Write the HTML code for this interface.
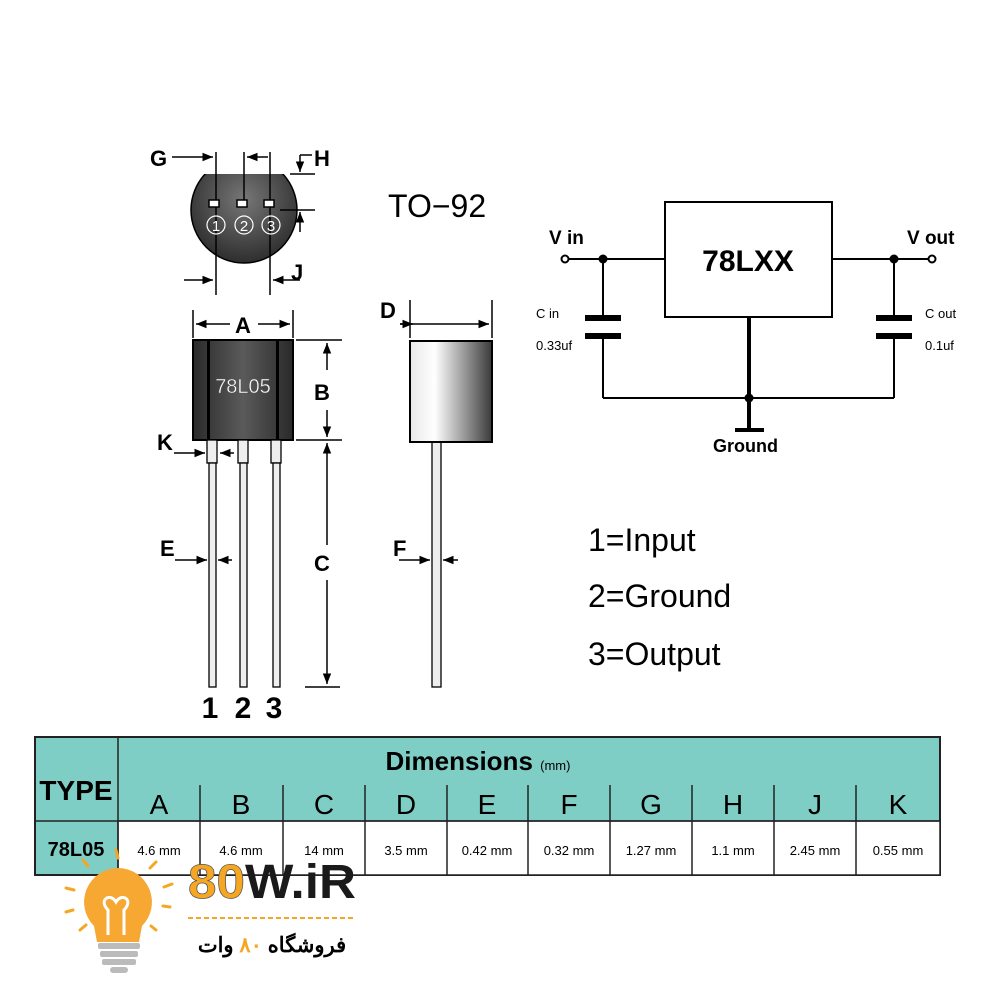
<!DOCTYPE html>
<html><head><meta charset="utf-8"><style>
html,body{margin:0;padding:0;background:#fff}
svg{display:block}
text{font-family:"Liberation Sans",Arial,sans-serif}
</style></head><body>
<svg width="1000" height="1000" viewBox="0 0 1000 1000" xmlns="http://www.w3.org/2000/svg">
<defs>
<linearGradient id="bd" x1="0" x2="1"><stop offset="0" stop-color="#2a2a2a"/><stop offset="0.5" stop-color="#5a5a5a"/><stop offset="1" stop-color="#2a2a2a"/></linearGradient>
<linearGradient id="sd" x1="0" x2="1"><stop offset="0" stop-color="#e8e8e8"/><stop offset="0.3" stop-color="#ffffff"/><stop offset="1" stop-color="#3a3a3a"/></linearGradient>
<radialGradient id="cg" cx="0.5" cy="0.4" r="0.6"><stop offset="0" stop-color="#777"/><stop offset="1" stop-color="#2e2e2e"/></radialGradient>
<clipPath id="cc"><rect x="180" y="174" width="130" height="100"/></clipPath>
<marker id="ar" viewBox="0 0 10 10" refX="10" refY="5" markerWidth="7" markerHeight="7" orient="auto-start-reverse"><path d="M0,1 L10,5 L0,9z" fill="#000"/></marker>
</defs>
<g stroke="#000" stroke-width="1.5" fill="none">
<circle cx="244" cy="210" r="53" fill="url(#cg)" clip-path="url(#cc)"/>
<line x1="216" y1="152" x2="216" y2="295"/><line x1="270" y1="152" x2="270" y2="295"/><line x1="244" y1="152" x2="244" y2="205"/>
<line x1="172" y1="157" x2="213" y2="157" marker-end="url(#ar)"/>
<line x1="268" y1="157" x2="247" y2="157" marker-end="url(#ar)"/>
<line x1="290" y1="174" x2="315" y2="174"/><line x1="280" y1="210" x2="315" y2="210"/>
<line x1="300" y1="155" x2="312" y2="155"/><line x1="300" y1="155" x2="300" y2="172" marker-end="url(#ar)"/>
<line x1="300" y1="232" x2="300" y2="212" marker-end="url(#ar)"/>
<line x1="184" y1="280" x2="213" y2="280" marker-end="url(#ar)"/>
<line x1="300" y1="280" x2="273" y2="280" marker-end="url(#ar)"/>
</g>
<g fill="#fff" stroke="#000" stroke-width="1.5">
<rect x="209" y="200" width="10" height="7"/><rect x="237" y="200" width="10" height="7"/><rect x="264" y="200" width="10" height="7"/>
</g>
<g fill="none" stroke="#fff" stroke-width="1.2"><circle cx="216" cy="225" r="9"/><circle cx="244" cy="225" r="9"/><circle cx="271" cy="225" r="9"/></g>
<g fill="#fff" font-size="15" text-anchor="middle"><text x="216" y="231">1</text><text x="244" y="231">2</text><text x="271" y="231">3</text></g>
<g font-size="22" font-weight="bold" fill="#000"><text x="150" y="166">G</text><text x="314" y="166">H</text><text x="291" y="280">J</text></g>
<text x="388" y="217" font-size="32" fill="#000">TO−92</text>
<g stroke="#000" stroke-width="1.5" fill="none">
<line x1="193" y1="310" x2="193" y2="338"/><line x1="293" y1="310" x2="293" y2="338"/>
<line x1="230" y1="324" x2="196" y2="324" marker-end="url(#ar)"/><line x1="258" y1="324" x2="290" y2="324" marker-end="url(#ar)"/>
<line x1="296" y1="340" x2="342" y2="340"/><line x1="296" y1="440" x2="342" y2="440"/><line x1="305" y1="687" x2="340" y2="687"/>
<line x1="327" y1="370" x2="327" y2="343" marker-end="url(#ar)"/><line x1="327" y1="410" x2="327" y2="437" marker-end="url(#ar)"/>
<line x1="327" y1="545" x2="327" y2="443" marker-end="url(#ar)"/><line x1="327" y1="580" x2="327" y2="684" marker-end="url(#ar)"/>
</g>
<rect x="193" y="340" width="100" height="100" fill="url(#bd)" stroke="#000" stroke-width="2"/>
<rect x="207" y="341" width="3" height="98" fill="#000"/><rect x="276" y="341" width="3" height="98" fill="#000"/>
<text x="243" y="393" font-size="20" fill="#fff" text-anchor="middle" stroke="#555" stroke-width="0.5">78L05</text>
<g font-size="22" font-weight="bold" fill="#000"><text x="235" y="333">A</text><text x="314" y="400">B</text><text x="314" y="571">C</text><text x="157" y="450">K</text><text x="160" y="556">E</text><text x="393" y="556">F</text><text x="380" y="318">D</text></g>
<g fill="#eee" stroke="#000" stroke-width="1.3">
<rect x="207" y="440" width="10" height="23"/><rect x="238" y="440" width="10" height="23"/><rect x="271" y="440" width="10" height="23"/>
<rect x="209" y="463" width="7" height="224"/><rect x="240" y="463" width="7" height="224"/><rect x="273" y="463" width="7" height="224"/>
<rect x="432" y="442" width="9" height="245"/>
</g>
<g stroke="#000" stroke-width="1.5" fill="none">
<line x1="174" y1="453" x2="205" y2="453" marker-end="url(#ar)"/><line x1="234" y1="453" x2="220" y2="453" marker-end="url(#ar)"/>
<line x1="175" y1="560" x2="207" y2="560" marker-end="url(#ar)"/><line x1="232" y1="560" x2="218" y2="560" marker-end="url(#ar)"/>
<line x1="399" y1="560" x2="430" y2="560" marker-end="url(#ar)"/><line x1="458" y1="560" x2="443" y2="560" marker-end="url(#ar)"/>
<line x1="410" y1="300" x2="410" y2="338"/><line x1="492" y1="300" x2="492" y2="338"/>
<line x1="400" y1="324" x2="489" y2="324" marker-end="url(#ar)"/><line x1="400" y1="324" x2="413" y2="324" marker-end="url(#ar)"/>
</g>
<rect x="410" y="341" width="82" height="101" fill="url(#sd)" stroke="#000" stroke-width="2"/>
<g font-size="30" font-weight="bold" fill="#000" text-anchor="middle"><text x="210" y="718">1</text><text x="243" y="718">2</text><text x="274" y="718">3</text></g>
<g stroke="#000" stroke-width="2" fill="none">
<rect x="665" y="202" width="167" height="115"/>
<line x1="569" y1="259" x2="665" y2="259"/><line x1="832" y1="259" x2="928" y2="259"/>
<line x1="603" y1="259" x2="603" y2="317"/><line x1="603" y1="337" x2="603" y2="398"/>
<line x1="894" y1="259" x2="894" y2="317"/><line x1="894" y1="337" x2="894" y2="398"/>
<line x1="603" y1="398" x2="894" y2="398"/>
<line x1="749" y1="317" x2="749" y2="430" stroke-width="4"/>
<line x1="735" y1="430" x2="764" y2="430" stroke-width="4"/>
<line x1="585" y1="318" x2="621" y2="318" stroke-width="6"/><line x1="585" y1="336" x2="621" y2="336" stroke-width="6"/>
<line x1="876" y1="318" x2="912" y2="318" stroke-width="6"/><line x1="876" y1="336" x2="912" y2="336" stroke-width="6"/>
<circle cx="565" cy="259" r="3.5" fill="#fff"/><circle cx="932" cy="259" r="3.5" fill="#fff"/>
</g>
<g fill="#000"><circle cx="603" cy="259" r="4.5"/><circle cx="894" cy="259" r="4.5"/><circle cx="749" cy="398" r="4.5"/></g>
<text x="748" y="271" font-size="30" font-weight="bold" text-anchor="middle">78LXX</text>
<g font-size="19" font-weight="bold"><text x="549" y="244">V in</text><text x="907" y="244">V out</text><text x="713" y="452" font-size="18">Ground</text></g>
<g font-size="13"><text x="536" y="318">C in</text><text x="536" y="350">0.33uf</text><text x="925" y="318">C out</text><text x="925" y="350">0.1uf</text></g>
<g font-size="32"><text x="588" y="551">1=Input</text><text x="588" y="607">2=Ground</text><text x="588" y="665">3=Output</text></g>
<rect x="35" y="737" width="905" height="138" fill="#7fcec6" stroke="#222" stroke-width="2"/>
<rect x="118" y="821" width="822" height="54" fill="#fff" stroke="#222" stroke-width="1.5"/>
<g stroke="#222" stroke-width="1.5">
<line x1="118" y1="737" x2="118" y2="875"/><line x1="35" y1="821" x2="940" y2="821"/>
<line x1="200" y1="785" x2="200" y2="875"/><line x1="283" y1="785" x2="283" y2="875"/><line x1="365" y1="785" x2="365" y2="875"/><line x1="447" y1="785" x2="447" y2="875"/><line x1="528" y1="785" x2="528" y2="875"/><line x1="610" y1="785" x2="610" y2="875"/><line x1="692" y1="785" x2="692" y2="875"/><line x1="774" y1="785" x2="774" y2="875"/><line x1="856" y1="785" x2="856" y2="875"/>
</g>
<text x="76" y="800" font-size="28" font-weight="bold" text-anchor="middle">TYPE</text>
<text x="478" y="770" font-size="26" font-weight="bold" text-anchor="middle">Dimensions <tspan font-size="13" font-weight="normal">(mm)</tspan></text>
<g font-size="28" text-anchor="middle"><text x="159" y="814">A</text><text x="241" y="814">B</text><text x="324" y="814">C</text><text x="406" y="814">D</text><text x="487" y="814">E</text><text x="569" y="814">F</text><text x="651" y="814">G</text><text x="733" y="814">H</text><text x="815" y="814">J</text><text x="898" y="814">K</text></g>
<text x="76" y="856" font-size="20" font-weight="bold" text-anchor="middle">78L05</text>
<g font-size="13" text-anchor="middle"><text x="159" y="855">4.6 mm</text><text x="241" y="855">4.6 mm</text><text x="324" y="855">14 mm</text><text x="406" y="855">3.5 mm</text><text x="487" y="855">0.42 mm</text><text x="569" y="855">0.32 mm</text><text x="651" y="855">1.27 mm</text><text x="733" y="855">1.1 mm</text><text x="815" y="855">2.45 mm</text><text x="898" y="855">0.55 mm</text></g>
<g stroke="#f5a623" stroke-width="3" stroke-linecap="round">
<line x1="116" y1="850" x2="118" y2="858"/><line x1="83" y1="860" x2="88" y2="866"/><line x1="156" y1="862" x2="150" y2="868"/><line x1="66" y1="888" x2="74" y2="890"/><line x1="172" y1="884" x2="164" y2="887"/><line x1="66" y1="912" x2="73" y2="910"/><line x1="170" y1="907" x2="163" y2="906"/><line x1="80" y1="930" x2="86" y2="925"/><line x1="156" y1="930" x2="151" y2="926"/>
</g>
<path d="M118,868 a34,34 0 0 1 24,58 l-3,16 h-42 l-3,-16 a34,34 0 0 1 24,-58z" fill="#f6a832"/>
<path d="M108,935 v-25 c-10,-10 2,-18 8,-8 c6,-10 18,-2 8,8 v25" fill="none" stroke="#fff" stroke-width="3"/>
<g fill="#bbb"><rect x="98" y="943" width="42" height="6" rx="2"/><rect x="100" y="951" width="38" height="6" rx="2"/><rect x="102" y="959" width="34" height="6" rx="2"/><rect x="110" y="967" width="18" height="6" rx="3"/></g>
<text x="188" y="898" font-size="48" font-weight="bold" fill="#f5a623" stroke="#555" stroke-width="0.7" textLength="168" lengthAdjust="spacingAndGlyphs">80<tspan fill="#1a1a1a" stroke="none">W.iR</tspan></text>
<line x1="188" y1="918" x2="356" y2="918" stroke="#f5a623" stroke-width="2" stroke-dasharray="5,3"/>
<text x="272" y="952" font-size="21" font-weight="bold" text-anchor="middle" font-family="'DejaVu Sans',sans-serif">فروشگاه <tspan fill="#f5a623">۸۰</tspan> وات</text>
</svg>
</body></html>
